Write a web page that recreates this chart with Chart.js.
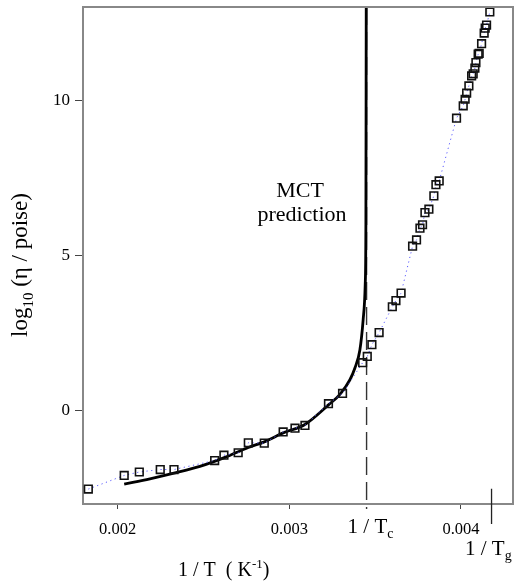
<!DOCTYPE html>
<html>
<head>
<meta charset="utf-8">
<script src="https://cdn.jsdelivr.net/npm/chart.js@4.4.0/dist/chart.umd.min.js"></script>
<style>
  body { margin: 0; background: #fff; }
  #wrap { width: 515px; height: 583px; }
</style>
</head>
<body>
<div id="wrap"><canvas id="myChart"></canvas></div>
<script>
  // measured viscosity, log10(eta / poise) vs 1/T
  var expX = [0.001829, 0.002038, 0.002126, 0.002248, 0.002328, 0.002565, 0.002619, 0.002702, 0.002761, 0.002854,
              0.002964, 0.003033, 0.003091, 0.003228, 0.003310, 0.003427, 0.003454, 0.003481, 0.003523, 0.003600,
              0.003621, 0.003651, 0.003718, 0.003741, 0.003761, 0.003776, 0.003790, 0.003813, 0.003842, 0.003854,
              0.003873, 0.003974, 0.004013, 0.004024, 0.004033, 0.004046, 0.004062, 0.004071, 0.004081, 0.004087,
              0.004100, 0.004106, 0.004120, 0.004135, 0.004141, 0.004149, 0.004168];
  var expY = [-2.52, -2.08, -1.97, -1.89, -1.89, -1.60, -1.43, -1.35, -1.03, -1.04,
              -0.68, -0.56, -0.47, 0.23, 0.56, 1.55, 1.75, 2.13, 2.52, 3.35,
              3.55, 3.79, 5.30, 5.50, 5.88, 5.99, 6.38, 6.49, 6.92, 7.28,
              7.40, 9.42, 9.82, 10.03, 10.23, 10.46, 10.78, 10.85, 11.03, 11.21,
              11.48, 11.51, 11.82, 12.16, 12.32, 12.42, 12.84];

  // MCT prediction curve
  var mctX = [0.002038, 0.002188, 0.002334, 0.002479, 0.002625, 0.002761, 0.002854, 0.002964, 0.003091, 0.003228,
              0.003295, 0.003353, 0.003382, 0.003411, 0.003430, 0.003442, 0.003446, 0.003448];
  var mctY = [-2.36, -2.19, -2.00, -1.79, -1.50, -1.18, -1.00, -0.71, -0.44, 0.19,
              0.53, 1.00, 1.38, 1.96, 2.93, 4.06, 6.00, 13.0];

  var invTc = 0.00345;
  var invTg = 0.004178;
  var xTicks = [0.002, 0.003, 0.004];
  var yTicks = [0, 5, 10];

  var serif = "'Liberation Serif', 'Times New Roman', serif";

  var pts = function(xs, ys) {
    var out = [];
    for (var i = 0; i < xs.length; i++) out.push({x: xs[i], y: ys[i]});
    return out;
  };

  // draws text pieces one after another, small ones raised or lowered by dy
  var drawParts = function(ctx, x, y, parts) {
    for (var i = 0; i < parts.length; i++) {
      var p = parts[i];
      ctx.font = p.size + 'px ' + serif;
      ctx.fillText(p.t, x, y + (p.dy || 0));
      x += ctx.measureText(p.t).width;
    }
  };

  var textPlugin = {
    id: 'textPlugin',
    afterDraw: function(chart) {
      var ctx = chart.ctx;
      var a = chart.chartArea;
      var xs = chart.scales.x;
      ctx.save();
      // frame on top and right
      ctx.strokeStyle = '#888';
      ctx.lineWidth = 2;
      ctx.beginPath();
      ctx.moveTo(a.left, a.top);
      ctx.lineTo(a.right, a.top);
      ctx.lineTo(a.right, a.bottom);
      ctx.stroke();

      ctx.fillStyle = '#000';
      ctx.textBaseline = 'alphabetic';
      ctx.textAlign = 'center';
      ctx.font = '22px ' + serif;
      ctx.fillText('MCT', 300, 197);
      ctx.fillText('prediction', 302, 221);

      ctx.textAlign = 'left';
      drawParts(ctx, xs.getPixelForValue(invTc) - 19, 533, [{t: '1 / T', size: 21}, {t: 'c', size: 14, dy: 5}]);
      drawParts(ctx, 465, 555, [{t: '1 / T', size: 21}, {t: 'g', size: 14, dy: 5}]);
      drawParts(ctx, 178, 576, [{t: '1 / T  ( K', size: 20}, {t: '-1', size: 13, dy: -8}, {t: ')', size: 20}]);

      ctx.translate(27, 337);
      ctx.rotate(-Math.PI / 2);
      drawParts(ctx, 0, 0, [{t: 'log', size: 23}, {t: '10', size: 15, dy: 6}, {t: ' (\u03b7 / poise)', size: 23}]);
      ctx.restore();
    }
  };

  var ctx = document.getElementById('myChart').getContext('2d');
  var myChart = new Chart(ctx, {
    type: 'scatter',
    data: {
      datasets: [
        {
          label: 'MCT',
          data: pts(mctX, mctY),
          showLine: true,
          borderColor: '#000',
          borderWidth: 2.8,
          pointRadius: 0,
          cubicInterpolationMode: 'monotone',
          order: 2
        },
        {
          label: '1/Tc',
          data: [{x: invTc, y: 13}, {x: invTc, y: -3.16}],
          showLine: true,
          borderColor: '#333',
          borderWidth: 1.4,
          borderDash: [18, 7],
          pointRadius: 0,
          clip: false,
          order: 3
        },
        {
          label: '1/Tg',
          data: [{x: invTg, y: -2.51}, {x: invTg, y: -3.64}],
          showLine: true,
          borderColor: '#222',
          borderWidth: 1.3,
          pointRadius: 0,
          clip: false,
          order: 3
        },
        {
          label: 'data',
          data: pts(expX, expY),
          showLine: true,
          borderColor: '#5a5aff',
          borderWidth: 1,
          borderDash: [1.2, 3.5],
          pointStyle: 'rect',
          pointRadius: 5.4,
          pointBorderColor: '#111',
          pointBorderWidth: 1.6,
          pointBackgroundColor: 'rgba(255,255,255,0)',
          order: 1
        }
      ]
    },
    options: {
      responsive: true,
      maintainAspectRatio: false,
      animation: false,
      layout: { autoPadding: false, padding: { left: 0, right: 2, top: 7, bottom: 0 } },
      plugins: { legend: { display: false }, tooltip: { enabled: false } },
      scales: {
        x: {
          type: 'linear',
          min: 0.001798,
          max: 0.004303,
          afterFit: function(s) { s.height = 79; s.paddingLeft = 0; s.paddingRight = 0; },
          afterBuildTicks: function(s) { s.ticks = xTicks.map(function(v) { return {value: v}; }); },
          grid: { drawOnChartArea: false, drawTicks: true, tickLength: 5, color: '#444' },
          border: { display: true, color: '#888', width: 2 },
          ticks: {
            padding: 11,
            maxRotation: 0,
            color: '#000',
            font: { family: serif, size: 16.5 },
            callback: function(v) { return v.toFixed(3); }
          }
        },
        y: {
          type: 'linear',
          min: -3,
          max: 13,
          afterFit: function(s) { s.width = 83; s.paddingTop = 0; s.paddingBottom = 0; },
          afterBuildTicks: function(s) { s.ticks = yTicks.map(function(v) { return {value: v}; }); },
          grid: { drawOnChartArea: false, drawTicks: true, tickLength: 8, color: '#444' },
          border: { display: true, color: '#888', width: 2 },
          ticks: {
            padding: 5,
            color: '#000',
            font: { family: serif, size: 17 },
            callback: function(v) { return String(v); }
          }
        }
      }
    },
    plugins: [textPlugin]
  });
</script>
</body>
</html>
